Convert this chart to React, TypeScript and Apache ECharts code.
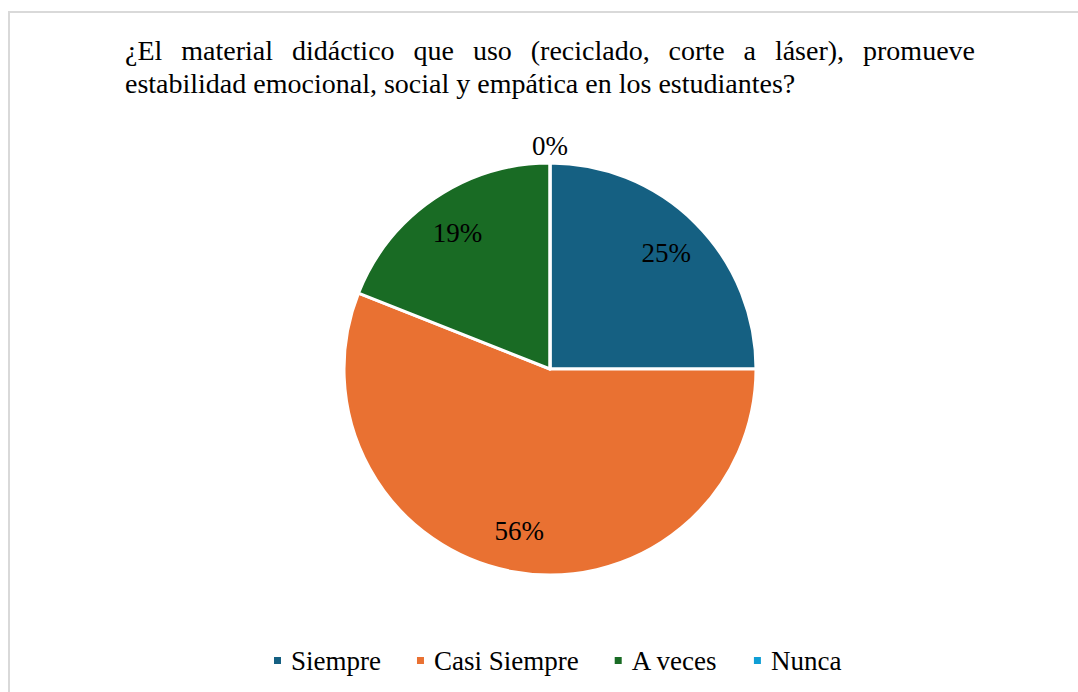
import React, { useEffect, useRef } from "react";
import * as echarts from "echarts";

const CATEGORIES = ["Siempre", "Casi Siempre", "A veces", "Nunca"];
const VALUES = [25, 56, 19, 0];
const COLORS = ["#156082", "#E97132", "#196B24", "#0F9ED5"];
const TITLE_LINE1 = ["¿El", "material", "didáctico", "que", "uso", "(reciclado,", "corte", "a", "láser),", "promueve"];
const TITLE_LINE2 = "estabilidad emocional, social y empática en los estudiantes?";

const FONT_FAMILY = "Liberation Serif";

export default function App() {
  const ref = useRef<HTMLDivElement>(null);
  useEffect(() => {
    if (!ref.current) return;
    const chart = echarts.init(ref.current, null, { renderer: "svg" });

    // justified first title line
    const canvas = document.createElement("canvas");
    const ctx = canvas.getContext("2d")!;
    ctx.font = '28px "Liberation Serif"';
    const widths = TITLE_LINE1.map((w) => ctx.measureText(w).width);
    const sum = widths.reduce((a, b) => a + b, 0);
    const left = 125;
    const right = 975;
    const gap = (right - left - sum) / (TITLE_LINE1.length - 1);
    let x = left;
    const words: any[] = TITLE_LINE1.map((w, i) => {
      const el = {
        type: "text",
        x,
        y: 50,
        style: { text: w, fontFamily: FONT_FAMILY, fontSize: 28, fill: "#000", verticalAlign: "middle", align: "left" },
      };
      x += widths[i] + gap;
      return el;
    });

    const data = CATEGORIES.map((name, i) => ({ name, value: VALUES[i], itemStyle: { color: COLORS[i] } }));

    chart.setOption({
      animation: false,
      graphic: [
        {
          type: "rect",
          shape: { x: 9, y: 12, width: 1200, height: 800 },
          style: { fill: "none", stroke: "#d9d9d9", lineWidth: 2 },
          silent: true,
          z: -10,
        },
        ...words,
        {
          type: "text",
          x: 125,
          y: 83,
          style: { text: TITLE_LINE2, fontFamily: FONT_FAMILY, fontSize: 28, fill: "#000", verticalAlign: "middle", align: "left" },
        },
      ],
      legend: {
        data: CATEGORIES,
        left: 272,
        top: 647,
        padding: 0,
        icon: "rect",
        itemWidth: 9,
        itemHeight: 9,
        itemGap: 34,
        textStyle: { fontFamily: FONT_FAMILY, fontSize: 27, color: "#000", padding: [0, 0, 0, 4] },
      },
      series: [
        {
          type: "pie",
          name: "main",
          center: [550, 369],
          radius: [0, 206],
          startAngle: 90,
          clockwise: true,
          data,
          label: { show: false },
          labelLine: { show: false },
          itemStyle: { borderColor: "#fff", borderWidth: 3 },
          emphasis: { disabled: true },
          silent: true,
        },
        {
          type: "pie",
          name: "labels",
          center: [550, 369],
          radius: [117, 206],
          startAngle: 90,
          clockwise: true,
          data: CATEGORIES.map((name, i) => ({ name, value: VALUES[i] })),
          itemStyle: { color: "rgba(0,0,0,0)", borderWidth: 0 },
          label: {
            show: true,
            position: "inside",
            formatter: "{d}%",
            fontFamily: FONT_FAMILY,
            fontSize: 27,
            color: "#000",
          },
          labelLine: { show: false },
          labelLayout: (p: any) => {
            if (p.dataIndex === 3) {
              return {
                x: p.rect.x + p.rect.width / 2,
                y: p.rect.y - 4,
                align: "center",
                verticalAlign: "bottom",
              };
            }
            return {};
          },
          emphasis: { disabled: true },
          silent: true,
          percentPrecision: 0,
        },
      ],
    });
    return () => chart.dispose();
  }, []);
  return <div ref={ref} style={{ position: "absolute", left: 0, top: 0, width: 1078, height: 692 }} />;
}
